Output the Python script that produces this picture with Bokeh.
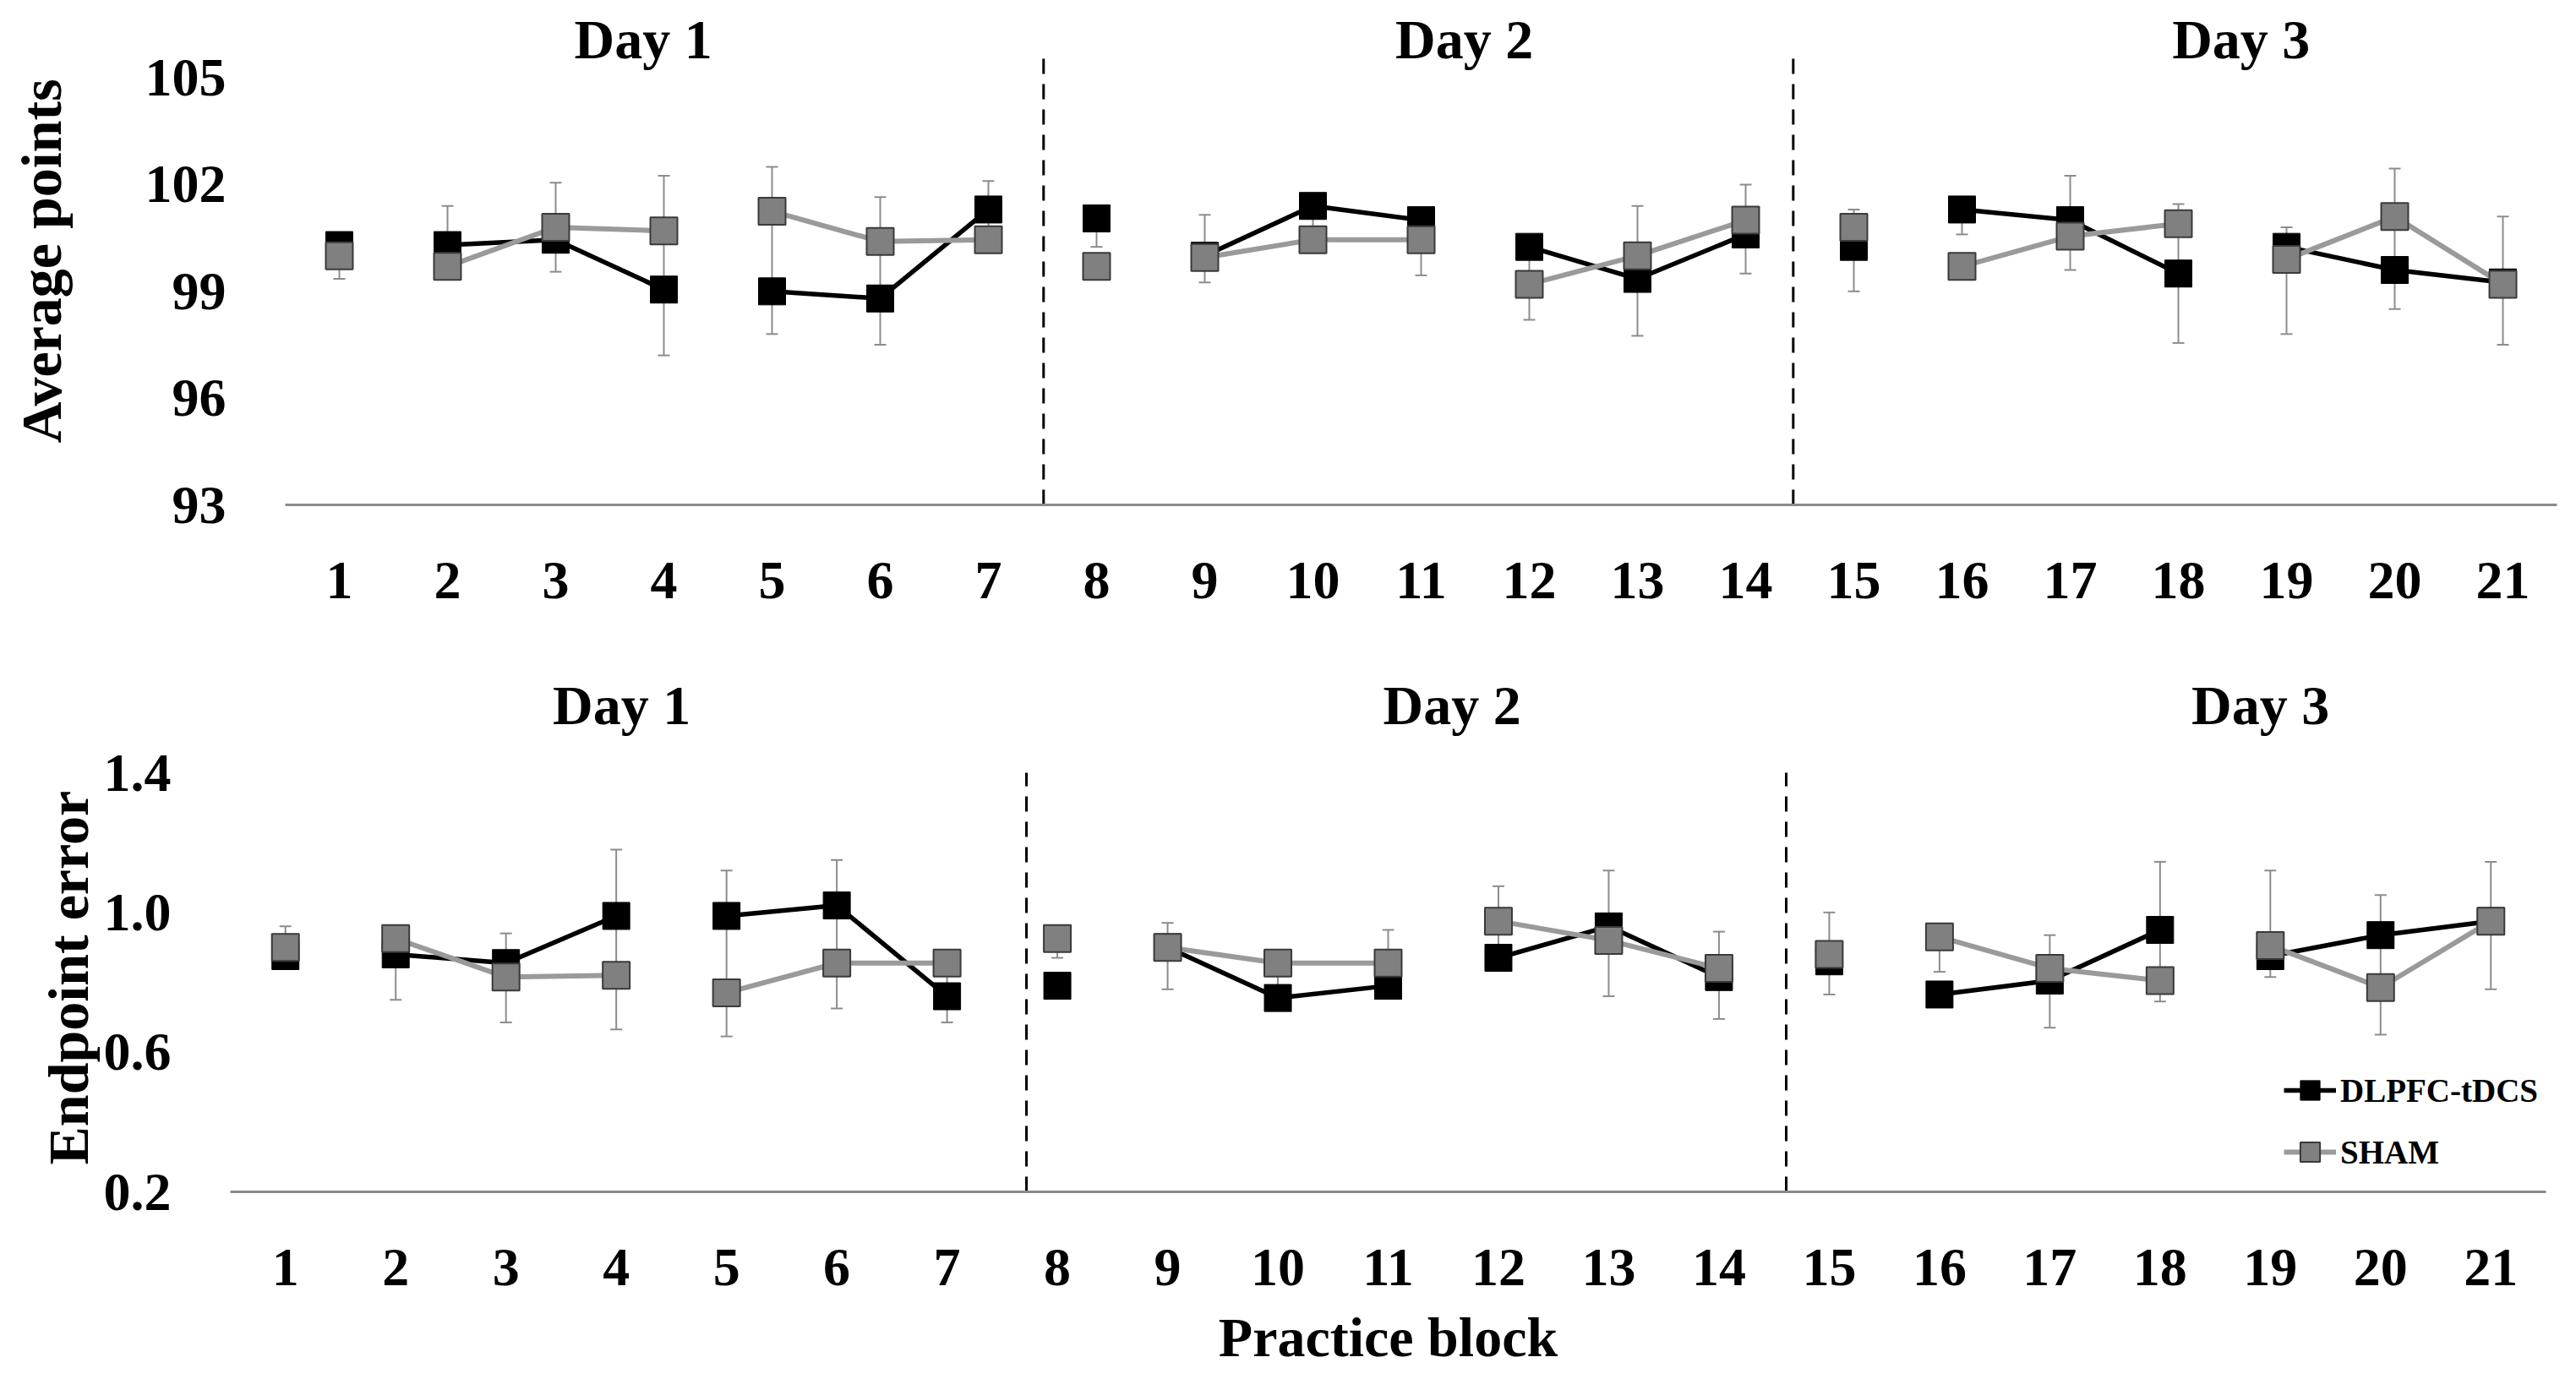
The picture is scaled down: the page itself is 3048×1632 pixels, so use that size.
from bokeh.plotting import figure
from bokeh.models import (FixedTicker, Whisker, TeeHead, ColumnDataSource, Legend,
                          LegendItem, Range1d, NumeralTickFormatter, LinearAxis, Title)
from bokeh.core.properties import value
from bokeh.embed import file_html
from bokeh.resources import INLINE

FONT = "Liberation Serif"

# ---------------- data ----------------
blocks = list(range(1, 22))
block_groups = [[1], [2, 3, 4], [5, 6, 7], [8], [9, 10, 11], [12, 13, 14],
                [15], [16, 17, 18], [19, 20, 21]]
day_titles = ["Day 1", "Day 2", "Day 3"]

# Top panel: Average points
points_dlpfc = [100.3, 100.3, 100.45, 99.05, 99.0, 98.8, 101.3,
                101.05, 100.0, 101.4, 101.0, 100.25, 99.35, 100.6,
                100.25, 101.3, 101.0, 99.5, 100.25, 99.6, 99.25]
points_sham = [100.0, 99.7, 100.8, 100.7, 101.25, 100.4, 100.45,
               99.7, 99.95, 100.45, 100.45, 99.2, 100.0, 101.0,
               100.8, 99.7, 100.55, 100.9, 99.9, 101.1, 99.2]
points_err_hi = [100.3, 101.4, 102.05, 102.25, 102.5, 101.65, 102.1,
                 101.05, 101.15, 101.4, 101.0, 100.25, 101.4, 102.0,
                 101.3, 101.3, 102.25, 101.45, 100.8, 102.45, 101.1]
points_err_lo = [99.35, 99.7, 99.55, 97.2, 97.8, 97.5, 100.45,
                 100.25, 99.25, 100.45, 99.45, 98.2, 97.75, 99.5,
                 99.0, 100.6, 99.6, 97.55, 97.8, 98.5, 97.5]
points_ticks = [93, 96, 99, 102, 105]

# Bottom panel: Endpoint error
error_dlpfc = [0.875, 0.88, 0.855, 0.99, 0.99, 1.02, 0.76,
               0.79, 0.9, 0.755, 0.79, 0.87, 0.96, 0.815,
               0.86, 0.765, 0.805, 0.95, 0.875, 0.935, 0.975]
error_sham = [0.9, 0.925, 0.815, 0.82, 0.77, 0.855, 0.855,
              0.925, 0.9, 0.855, 0.855, 0.975, 0.92, 0.84,
              0.88, 0.93, 0.84, 0.805, 0.905, 0.785, 0.975]
error_err_hi = [0.96, 0.925, 0.94, 1.18, 1.12, 1.15, 0.855,
                0.925, 0.97, 0.855, 0.95, 1.075, 1.12, 0.945,
                1.0, 0.93, 0.935, 1.145, 1.12, 1.05, 1.145]
error_err_lo = [0.875, 0.75, 0.685, 0.665, 0.645, 0.725, 0.685,
                0.87, 0.78, 0.755, 0.79, 0.87, 0.76, 0.695,
                0.765, 0.83, 0.67, 0.745, 0.815, 0.65, 0.78]
error_ticks = [0.2, 0.6, 1.0, 1.4]

# ---------------- styling ----------------
BLACK = "#000000"
GRAY_FILL = "#808080"
GRAY_EDGE = "#3a3a3a"
GRAY_LINE = "#9a9a9a"
ERR_COLOR = "#8c8c8c"
AXIS_COLOR = "#8a8a8a"


def make_panel(dlpfc, sham, hi, lo, ticks, yr, dash_top, dividers, title_x, title_y,
               ylabel, width, height, left, right, top, bottom, spacer=None,
               ylab_offset=0, ylab_standoff=0, fmt=None, xlabel=None, legend=False):
    p = figure(width=width, height=height, output_backend="svg", toolbar_location=None,
               x_range=Range1d(0.5, 21.5), y_range=Range1d(*yr),
               min_border_left=left, min_border_right=right,
               min_border_top=top, min_border_bottom=bottom)
    p.outline_line_color = None
    p.xgrid.visible = False
    p.ygrid.visible = False
    p.background_fill_color = "white"
    p.border_fill_color = "white"

    # x axis
    p.xaxis.ticker = FixedTicker(ticks=blocks)
    p.xaxis.axis_line_color = AXIS_COLOR
    p.xaxis.axis_line_width = 3
    p.xaxis.major_tick_line_color = None
    p.xaxis.minor_tick_line_color = None
    p.xaxis.major_tick_out = 0
    p.xaxis.minor_tick_out = 0
    p.xaxis.major_label_standoff = 68
    p.xaxis.major_label_text_font = FONT
    p.xaxis.major_label_text_font_style = "bold"
    p.xaxis.major_label_text_font_size = "64px"
    p.xaxis.major_label_text_color = "black"
    if xlabel:
        p.xaxis.axis_label = xlabel
        p.xaxis.axis_label_text_font = FONT
        p.xaxis.axis_label_text_font_style = "bold"
        p.xaxis.axis_label_text_font_size = "66px"
        p.xaxis.axis_label_standoff = 22
        p.xaxis.axis_label_text_color = "black"

    # y axis
    p.yaxis.ticker = FixedTicker(ticks=ticks)
    if fmt:
        p.yaxis.formatter = NumeralTickFormatter(format=fmt)
    p.yaxis.axis_line_color = None
    p.yaxis.major_tick_line_color = None
    p.yaxis.minor_tick_line_color = None
    p.yaxis.major_tick_out = 0
    p.yaxis.minor_tick_out = 0
    p.yaxis.major_label_standoff = 70
    p.yaxis.major_label_text_font = FONT
    p.yaxis.major_label_text_font_style = "bold"
    p.yaxis.major_label_text_font_size = "64px"
    p.yaxis.major_label_text_color = "black"

    if spacer is None:
        # y title as the axis label
        p.yaxis.axis_label = ylabel
        p.yaxis.axis_label_standoff = ylab_standoff
        p.yaxis.axis_label_text_font = FONT
        p.yaxis.axis_label_text_font_style = "bold"
        p.yaxis.axis_label_text_font_size = "68px"
        p.yaxis.axis_label_text_color = "black"
    else:
        # empty spacer axis (no ticks), then the y title further left
        sp = LinearAxis(ticker=FixedTicker(ticks=[]), axis_line_color=None,
                        major_tick_line_color="white", minor_tick_line_color=None,
                        major_tick_out=spacer, major_tick_in=0, minor_tick_out=0,
                        minor_tick_in=0, major_label_standoff=0,
                        major_label_text_font_size="0px")
        p.add_layout(sp, "left")
        p.add_layout(Title(text=ylabel, align="left", offset=ylab_offset,
                           vertical_align="middle", standoff=0, text_font=FONT,
                           text_font_style="bold", text_font_size="68px",
                           text_color="black"), "left")

    # day dividers
    p.segment(x0=dividers, x1=dividers, y0=[yr[0]] * len(dividers),
              y1=[dash_top] * len(dividers), line_color="black", line_width=3,
              line_dash="18 12")

    # day titles
    p.text(x=title_x, y=[title_y] * len(title_x), text=day_titles,
           text_font=value(FONT), text_font_style="bold", text_font_size="66px",
           text_align="center", text_baseline="alphabetic", text_color="black")

    # error bars
    esrc = ColumnDataSource(dict(x=blocks, hi=hi, lo=lo))
    wh = Whisker(source=esrc, base="x", upper="hi", lower="lo",
                 line_color=ERR_COLOR, line_width=2, level="underlay",
                 upper_head=TeeHead(size=14, line_color=ERR_COLOR, line_width=2),
                 lower_head=TeeHead(size=14, line_color=ERR_COLOR, line_width=2))
    p.add_layout(wh)

    # DLPFC series
    black_lines = []
    for g in block_groups:
        if len(g) > 1:
            r = p.line([blocks[i - 1] for i in g], [dlpfc[i - 1] for i in g],
                       line_color=BLACK, line_width=5.5)
            black_lines.append(r)
    bsc = p.scatter(blocks, dlpfc, marker="square", size=32, fill_color=BLACK,
                    line_color=BLACK, line_width=1)
    # SHAM series
    gray_lines = []
    for g in block_groups:
        if len(g) > 1:
            r = p.line([blocks[i - 1] for i in g], [sham[i - 1] for i in g],
                       line_color=GRAY_LINE, line_width=6)
            gray_lines.append(r)
    gsc = p.scatter(blocks, sham, marker="square", size=32, fill_color=GRAY_FILL,
                    line_color=GRAY_EDGE, line_width=2)

    if legend:
        leg = Legend(items=[LegendItem(label="DLPFC-tDCS", renderers=[black_lines[0], bsc]),
                            LegendItem(label="SHAM", renderers=[gray_lines[0], gsc])],
                     location=(2430, 18), orientation="vertical",
                     glyph_width=62, glyph_height=58, spacing=15, padding=0, margin=0,
                     label_standoff=5, border_line_color=None, background_fill_alpha=0,
                     label_text_font=FONT, label_text_font_style="bold",
                     label_text_font_size="39px", label_text_color="black")
        p.add_layout(leg)
    return p


top = make_panel(points_dlpfc, points_sham, points_err_hi, points_err_lo, points_ticks,
                 yr=(93, 106.7), dash_top=105.7, dividers=[7.51, 14.44],
                 title_x=[3.81, 11.4, 18.58], title_y=106.08,
                 ylabel="Average points", width=3040, height=760,
                 left=337, right=15, top=20, bottom=163, ylab_standoff=82)

bottom = make_panel(error_dlpfc, error_sham, error_err_hi, error_err_lo, error_ticks,
                    yr=(0.2, 1.70), dash_top=1.4, dividers=[7.72, 14.61],
                    title_x=[4.05, 11.58, 18.91], title_y=1.594,
                    ylabel="Endpoint error", width=3040, height=870,
                    left=272, right=28, top=30, bottom=220, spacer=34, ylab_offset=32,
                    fmt="0.0", xlabel="Practice block", legend=True)

open("out.html", "w").write(file_html([top, bottom], INLINE))
